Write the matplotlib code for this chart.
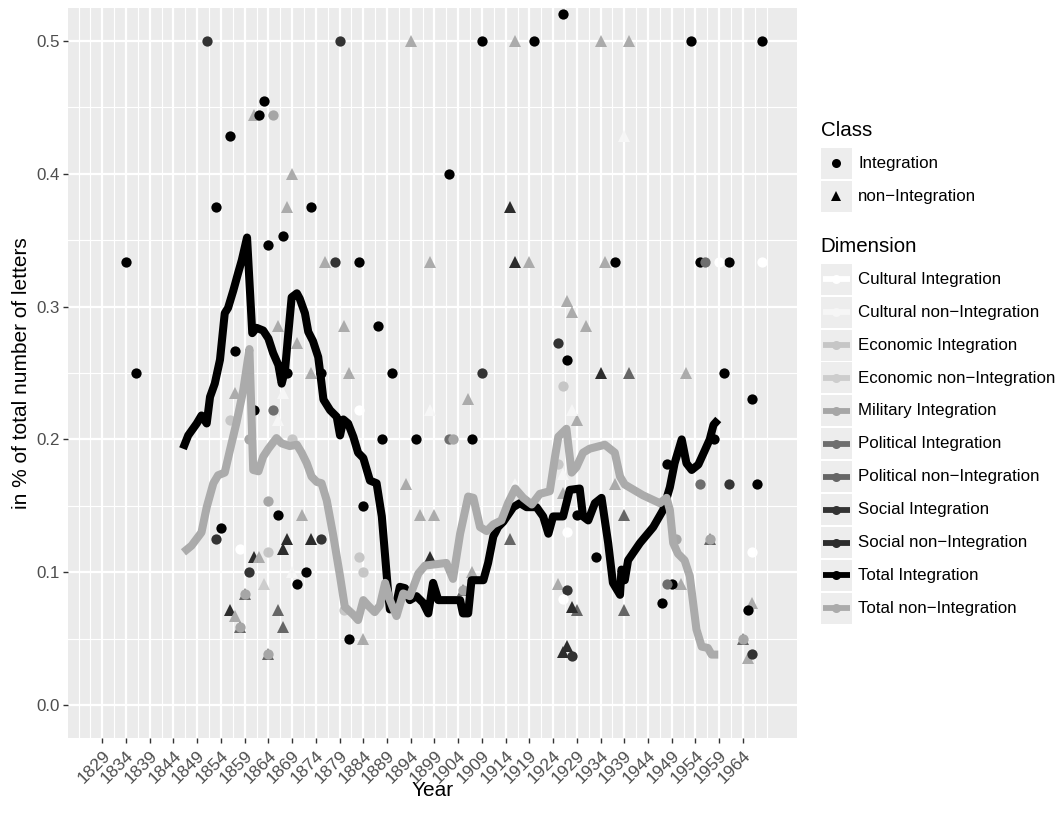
import numpy as np
import matplotlib
matplotlib.use('Agg')
import matplotlib.pyplot as plt
from matplotlib.lines import Line2D
from matplotlib.patches import Rectangle

plt.rcParams['font.family'] = ['Liberation Sans', 'DejaVu Sans']

# ---------------- data ----------------
# rolling totals (lines)
ti_year = [1846.0, 1847.1, 1848.9, 1849.9, 1851.0, 1851.7, 1852.7, 1853.8, 1854.8, 1855.5,
           1856.6, 1857.6, 1858.4, 1859.5, 1860.6, 1861.5, 1862.9, 1864.0, 1865.0, 1866.1,
           1866.8, 1867.5, 1868.2, 1868.9, 1870.0, 1870.6, 1871.7, 1872.4, 1873.4, 1874.5,
           1875.2, 1875.6, 1877.0, 1878.4, 1879.1, 1879.8, 1880.8, 1881.9, 1882.9, 1884.0,
           1885.4, 1886.8, 1887.9, 1888.6, 1889.3, 1889.6, 1891.0, 1891.7, 1892.8, 1893.8,
           1895.2, 1896.6, 1897.7, 1898.7, 1899.8, 1904.4, 1905.0, 1906.1, 1906.8, 1909.3,
           1910.3, 1911.4, 1912.4, 1913.5, 1915.6, 1917.0, 1918.4, 1920.5, 1921.9, 1923.0,
           1924.0, 1926.1, 1927.5, 1929.6, 1930.3, 1931.4, 1932.8, 1934.2, 1935.6, 1936.6,
           1938.1, 1938.4, 1939.1, 1939.8, 1942.3, 1945.1, 1947.2, 1948.6, 1949.6, 1951.1,
           1952.1, 1953.2, 1954.6, 1956.0, 1957.0, 1957.8, 1958.8]
ti_val = [0.193, 0.203, 0.212, 0.218, 0.212, 0.232, 0.242, 0.260, 0.295, 0.299,
          0.312, 0.325, 0.335, 0.352, 0.280, 0.284, 0.282, 0.276, 0.265, 0.256,
          0.242, 0.252, 0.280, 0.307, 0.310, 0.306, 0.295, 0.281, 0.274, 0.262,
          0.242, 0.230, 0.222, 0.217, 0.203, 0.215, 0.212, 0.202, 0.190, 0.186,
          0.169, 0.167, 0.142, 0.112, 0.082, 0.072, 0.077, 0.089, 0.088, 0.079,
          0.082, 0.077, 0.069, 0.092, 0.079, 0.079, 0.069, 0.069, 0.094, 0.094,
          0.107, 0.127, 0.134, 0.138, 0.149, 0.152, 0.149, 0.149, 0.142, 0.129,
          0.142, 0.142, 0.162, 0.163, 0.142, 0.139, 0.152, 0.156, 0.122, 0.092,
          0.083, 0.102, 0.094, 0.109, 0.122, 0.134, 0.147, 0.164, 0.182, 0.200,
          0.182, 0.177, 0.181, 0.192, 0.200, 0.211, 0.215]

tn_year = [1846.1, 1847.8, 1849.9, 1851.0, 1852.4, 1853.4, 1854.8, 1855.9, 1857.3, 1858.7,
           1860.0, 1860.8, 1861.9, 1862.9, 1864.0, 1865.7, 1866.8, 1868.5, 1870.0, 1871.0,
           1872.1, 1873.1, 1874.2, 1875.2, 1876.3, 1877.7, 1879.1, 1880.1, 1881.9, 1882.9,
           1884.0, 1885.0, 1886.4, 1887.5, 1888.6, 1889.6, 1891.0, 1892.4, 1893.8, 1895.6,
           1897.0, 1901.5, 1902.9, 1904.4, 1906.1, 1907.2, 1908.6, 1910.0, 1911.4, 1913.1,
           1914.5, 1916.0, 1917.7, 1919.5, 1921.2, 1923.3, 1924.4, 1925.1, 1926.8, 1927.9,
           1928.9, 1930.3, 1931.7, 1934.9, 1937.0, 1938.1, 1939.1, 1942.9, 1946.5, 1947.9,
           1948.6, 1949.3, 1950.3, 1951.7, 1952.8, 1954.2, 1955.3, 1956.6, 1957.4, 1958.8]
tn_val = [0.115, 0.120, 0.130, 0.149, 0.167, 0.173, 0.175, 0.192, 0.213, 0.237,
          0.268, 0.177, 0.176, 0.187, 0.193, 0.201, 0.197, 0.195, 0.196, 0.190,
          0.182, 0.172, 0.168, 0.167, 0.154, 0.127, 0.097, 0.074, 0.068, 0.064,
          0.079, 0.075, 0.070, 0.075, 0.092, 0.079, 0.067, 0.084, 0.082, 0.099,
          0.105, 0.107, 0.095, 0.129, 0.157, 0.156, 0.134, 0.131, 0.136, 0.139,
          0.152, 0.163, 0.156, 0.151, 0.159, 0.161, 0.187, 0.202, 0.208, 0.175,
          0.179, 0.190, 0.193, 0.196, 0.190, 0.172, 0.166, 0.158, 0.152, 0.156,
          0.147, 0.122, 0.114, 0.109, 0.097, 0.057, 0.044, 0.043, 0.038, 0.038]

# yearly shares per dimension (points)
cult_int_year = [1858, 1883, 1926, 1927, 1959, 1966, 1968]
cult_int_val = [0.1176, 0.2222, 0.08, 0.13, 0.3333, 0.1154, 0.3333]
cult_non_year = [1866, 1867, 1869, 1898, 1916, 1926, 1928, 1939]
cult_non_val = [0.2143, 0.2353, 0.1, 0.2222, 0.1667, 0.174, 0.2222, 0.4286]
econ_int_year = [1856, 1864, 1869, 1880, 1883, 1884, 1925, 1926]
econ_int_val = [0.2143, 0.1154, 0.2, 0.0714, 0.1111, 0.1, 0.1818, 0.24]
econ_non_year = [1863]
econ_non_val = [0.0909]
mil_int_year = [1858, 1859, 1860, 1864, 1864, 1865, 1903, 1905, 1950, 1957, 1964]
mil_int_val = [0.0588, 0.0833, 0.2, 0.0385, 0.1538, 0.4444, 0.2, 0.087, 0.125, 0.125, 0.05]
pol_int_year = [1865, 1902, 1948, 1955, 1956]
pol_int_val = [0.2222, 0.2, 0.0909, 0.1667, 0.3333]
pol_non_year = [1858, 1859, 1864, 1866, 1867, 1905, 1915, 1929, 1939, 1939, 1940, 1957, 1964]
pol_non_val = [0.0588, 0.0833, 0.0385, 0.0714, 0.0588, 0.087, 0.125, 0.0714, 0.1429, 0.0714,
               0.25, 0.125, 0.05]
soc_int_year = [1851, 1853, 1860, 1875, 1878, 1879, 1909, 1925, 1927, 1928, 1961, 1966]
soc_int_val = [0.5, 0.125, 0.1, 0.125, 0.3333, 0.5, 0.25, 0.2727, 0.087, 0.037, 0.1667, 0.0385]
soc_non_year = [1856, 1861, 1867, 1868, 1873, 1898, 1915, 1916, 1926, 1927, 1928, 1934]
soc_non_val = [0.0714, 0.1111, 0.1176, 0.125, 0.125, 0.1111, 0.375, 0.3333, 0.04, 0.0444,
               0.0741, 0.25]
tot_int_year = [1834, 1836, 1853, 1854, 1856, 1857, 1861, 1862, 1863, 1864,
                1866, 1867, 1868, 1870, 1872, 1873, 1875, 1881, 1883, 1884,
                1887, 1888, 1890, 1895, 1902, 1907, 1909, 1920, 1926, 1927,
                1929, 1933, 1937, 1947, 1948, 1949, 1953, 1955, 1958, 1960,
                1961, 1965, 1966, 1967, 1968]
tot_int_val = [0.3333, 0.25, 0.375, 0.1333, 0.4286, 0.2667, 0.2222, 0.4444, 0.4545, 0.3462,
               0.1429, 0.3529, 0.25, 0.0909, 0.1, 0.375, 0.25, 0.05, 0.3333, 0.15,
               0.2857, 0.2, 0.25, 0.2, 0.4, 0.2, 0.5, 0.5, 0.52, 0.26,
               0.1429, 0.1111, 0.3333, 0.0769, 0.1818, 0.0909, 0.5, 0.3333, 0.2, 0.25,
               0.3333, 0.0714, 0.2308, 0.1667, 0.5]
tot_non_year = [1857, 1857, 1861, 1862, 1866, 1868, 1869, 1870, 1871, 1873,
                1876, 1880, 1881, 1884, 1893, 1894, 1896, 1898, 1899, 1906,
                1907, 1916, 1919, 1925, 1926, 1927, 1928, 1929, 1931, 1934,
                1935, 1937, 1940, 1951, 1952, 1965, 1966]
tot_non_val = [0.2353, 0.0667, 0.4444, 0.1111, 0.2857, 0.375, 0.4, 0.2727, 0.1429, 0.25,
               0.3333, 0.2857, 0.25, 0.05, 0.1667, 0.5, 0.1429, 0.3333, 0.1429, 0.2308,
               0.1, 0.5, 0.3333, 0.0909, 0.16, 0.3043, 0.2963, 0.2143, 0.2857, 0.5,
               0.3333, 0.1667, 0.5, 0.0909, 0.25, 0.0357, 0.0769]

dimensions = ['Cultural Integration', 'Cultural non\u2212Integration', 'Economic Integration',
              'Economic non\u2212Integration', 'Military Integration', 'Political Integration',
              'Political non\u2212Integration', 'Social Integration', 'Social non\u2212Integration',
              'Total Integration', 'Total non\u2212Integration']
dim_colors = ['#FFFFFF', '#F6F6F6', '#C6C6C6', '#CDCDCD', '#A6A6A6', '#6E6E6E',
              '#666666', '#333333', '#2C2C2C', '#000000', '#ABABAB']
classes = ['Integration', 'non\u2212Integration']
x_ticks = list(range(1829, 1965, 5))
y_ticks = [0.0, 0.1, 0.2, 0.3, 0.4, 0.5]

# ---------------- figure ----------------
W, H = 1064, 813
fig = plt.figure(figsize=(W / 100, H / 100), dpi=100)
fig.patch.set_facecolor('white')

def fx(px):
    return px / W

def fy(py):
    return 1 - py / H

L, R, T, B = 68, 796.7, 8, 738
ax = fig.add_axes([fx(L), fy(B), fx(R) - fx(L), fy(T) - fy(B)])
ax.set_facecolor('#EBEBEB')
for s in ax.spines.values():
    s.set_visible(False)
ax.set_xlim(1821.77, 1975.33)
ax.set_ylim(-0.0248, 0.5248)

ax.set_xticks(x_ticks)
ax.set_xticklabels([str(t) for t in x_ticks])
x_minor = [v for v in np.arange(1824, 1970, 2.5) if v not in x_ticks]
ax.set_xticks(x_minor, minor=True)
ax.set_yticks(y_ticks)
ax.set_yticklabels(['%.1f' % t for t in y_ticks])
ax.set_yticks([0.05, 0.15, 0.25, 0.35, 0.45], minor=True)
ax.grid(which='major', color='white', linewidth=1.6)
ax.grid(which='minor', color='white', linewidth=0.8)
ax.set_axisbelow(True)
ax.tick_params(which='minor', length=0)
ax.tick_params(axis='y', which='major', length=3.4, width=1.0, color='#333333',
               labelcolor='#4D4D4D', labelsize=12.2, pad=2.5)
ax.tick_params(axis='x', which='major', length=3.4, width=1.0, color='#333333',
               labelcolor='#4D4D4D', labelsize=12.6, pad=3.5)
for lab in ax.get_xticklabels():
    lab.set_rotation(45)
    lab.set_ha('right')
    lab.set_va('top')
    lab.set_rotation_mode('anchor')

ms_c = 7.4
ms_t = 8.4

def pts(xs, ys, color, marker, z):
    ax.plot(xs, ys, linestyle='none', marker=marker, color=color,
            markersize=ms_t if marker == '^' else ms_c, markeredgewidth=0, zorder=z)

# triangles (non-Integration)
pts(pol_non_year, pol_non_val, dim_colors[6], '^', 3)
pts(soc_non_year, soc_non_val, dim_colors[8], '^', 3)
pts(tot_non_year, tot_non_val, dim_colors[10], '^', 3)
pts(cult_non_year, cult_non_val, dim_colors[1], '^', 3)
pts(econ_non_year, econ_non_val, dim_colors[3], '^', 3)
# circles (Integration)
pts(tot_int_year, tot_int_val, dim_colors[9], 'o', 4)
pts(soc_int_year, soc_int_val, dim_colors[7], 'o', 4)
pts(pol_int_year, pol_int_val, dim_colors[5], 'o', 4)
pts(mil_int_year, mil_int_val, dim_colors[4], 'o', 4)
pts(econ_int_year, econ_int_val, dim_colors[2], 'o', 4)
pts(cult_int_year, cult_int_val, dim_colors[0], 'o', 4)

# lines
ax.plot(ti_year, ti_val, color='#000000', linewidth=5.8, solid_joinstyle='round',
        solid_capstyle='butt', zorder=5)
ax.plot(tn_year, tn_val, color='#ABABAB', linewidth=5.8, solid_joinstyle='round',
        solid_capstyle='butt', zorder=6)

# axis titles
fig.text(fx((L + R) / 2), fy(790), 'Year', ha='center', va='center', fontsize=15, color='black')
fig.text(fx(22), fy((T + B) / 2), 'in % of total number of letters', ha='center', va='center',
         rotation=90, fontsize=15, color='black')

# ---------------- legend (manual) ----------------
kx0, kx1 = 820.7, 851.7
kh = 31.0
lab_x = 858.3
key_bg = '#EDEDED'

fig.text(fx(kx0), fy(131), 'Class', ha='left', va='center', fontsize=14.8)
class_y = [163.3, 196.2]
class_markers = ['o', '^']
for yc, lab, mk in zip(class_y, classes, class_markers):
    fig.patches.append(Rectangle((fx(kx0), fy(yc + kh / 2)), fx(kx1) - fx(kx0), kh / H,
                                 transform=fig.transFigure, facecolor=key_bg, edgecolor='none'))
    fig.lines.append(Line2D([fx((kx0 + kx1) / 2)], [fy(yc)], transform=fig.transFigure,
                            marker=mk, color='black', markersize=6.5 if mk == 'o' else 7.5,
                            markeredgewidth=0, linestyle='none'))
    fig.text(fx(lab_x), fy(yc), lab, ha='left', va='center', fontsize=12.2)

fig.text(fx(kx0), fy(247), 'Dimension', ha='left', va='center', fontsize=14.8)
for i, (lab, col) in enumerate(zip(dimensions, dim_colors)):
    yc = 279.3 + i * 32.9
    fig.patches.append(Rectangle((fx(kx0), fy(yc + kh / 2)), fx(kx1) - fx(kx0), kh / H,
                                 transform=fig.transFigure, facecolor=key_bg, edgecolor='none'))
    fig.lines.append(Line2D([fx(kx0 + 2), fx(kx1 - 2)], [fy(yc), fy(yc)], transform=fig.transFigure,
                            color=col, linewidth=4.2, solid_capstyle='butt'))
    fig.lines.append(Line2D([fx((kx0 + kx1) / 2)], [fy(yc)], transform=fig.transFigure,
                            marker='o', color=col, markersize=6.5, markeredgewidth=0,
                            linestyle='none'))
    fig.text(fx(lab_x), fy(yc), lab, ha='left', va='center', fontsize=12.2)

fig.savefig('out.png', dpi=100)
